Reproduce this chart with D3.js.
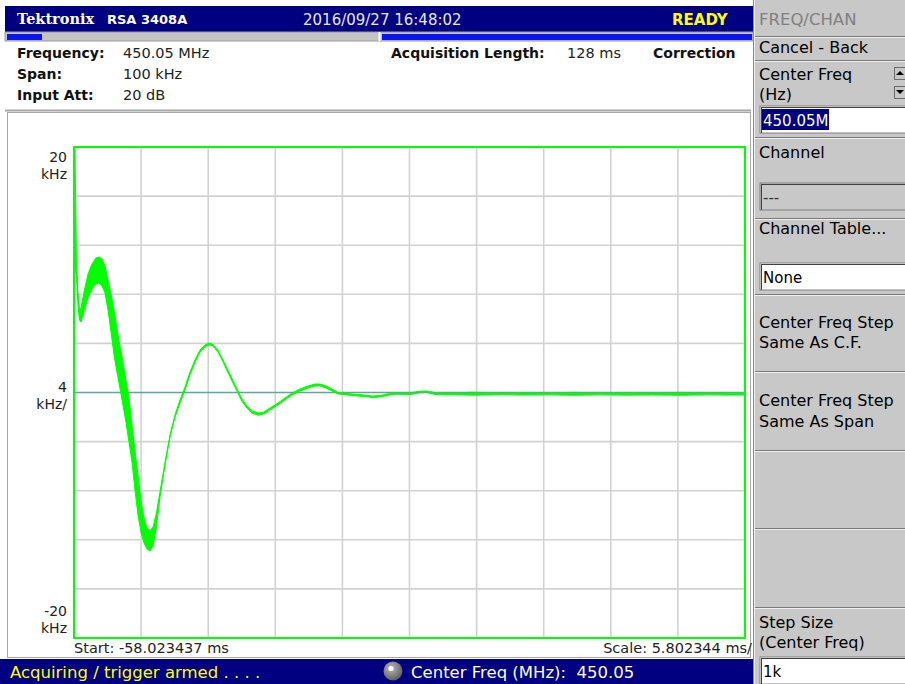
<!DOCTYPE html>
<html>
<head>
<meta charset="utf-8">
<script src="https://cdn.jsdelivr.net/npm/d3@7/dist/d3.min.js"></script>
<style>
  body { margin: 0; background: #fff; }
  svg { display: block; font-family: "DejaVu Sans", sans-serif; }
  text { white-space: pre; }
</style>
</head>
<body>
<svg id="screen" width="905" height="684"></svg>
<script>
// ---- Measurement settings -------------------------------------------------
const instrumentName = "Tektronix";
const instrumentModel = "RSA 3408A";
const timestamp = "2016/09/27 16:48:02";
const stateText = "READY";
const settingLabels = ["Frequency:", "Span:", "Input Att:"];
const settingValues = ["450.05 MHz", "100 kHz", "20 dB"];
const acqLabel = "Acquisition Length:";
const acqValue = "128 ms";
const correctionLabel = "Correction";
const statusText = "Acquiring / trigger armed . . . .";
const centerFreqText = "Center Freq (MHz):  450.05";

// ---- Axes -------------------------------------------------------------
const startMs = -58.023437;
const msPerDiv = 5.802344;
const xDivisions = 10;
const kHzPerDiv = 4;
const yTop = 20, yBottom = -20;
const yTickLabels = [
  { v: 20,  lines: ["20", "kHz"] },
  { v: 0,   lines: ["4", "kHz/"] },
  { v: -20, lines: ["-20", "kHz"] }
];
const startLabel = "Start: -58.023437 ms";
const scaleLabel = "Scale: 5.802344 ms/";

// ---- Frequency-vs-time trace: envelope (max / min) of the demodulated frequency
const traceTimeMs = [
  -58.02, -57.94, -57.81, -57.68, -57.55, -57.42, -57.16, -56.81, -56.47, -56.12,
  -55.86, -55.60, -55.34, -55.08, -54.82, -54.56, -54.31, -54.05, -53.79, -53.53,
  -53.27, -53.01, -52.75, -52.49, -52.23, -51.97, -51.71, -51.45, -51.19, -50.93,
  -50.59, -50.15, -49.72, -49.29, -48.86, -48.42, -47.99, -47.56, -47.13, -46.70,
  -46.35, -46.04, -45.57, -45.14, -44.71, -44.27, -43.93, -43.50, -43.06, -42.63,
  -42.11, -41.59, -41.07, -40.38, -39.78, -39.17, -38.48, -37.79, -37.18, -36.75,
  -36.23, -35.71, -35.19, -34.59, -33.72, -32.86, -32.17, -31.39, -30.70, -30.09,
  -28.97, -28.10, -27.50, -26.81, -25.94, -25.00, -23.50, -21.00, -19.20, -17.00,
  -14.80, -12.50, -10.10, -8.00, -5.60, -3.30, -1.20, 0.00
];
const traceMaxKHz = [
  20.00, 20.00, 10.63, 8.19, 6.72, 6.88, 8.19, 9.65, 10.47, 10.96,
  11.04, 10.88, 10.31, 9.17, 8.02, 6.72, 5.25, 3.79, 2.49, 1.02,
  -0.45, -2.65, -4.68, -6.72, -8.76, -10.22, -11.04, -11.28, -10.96, -9.98,
  -8.11, -5.66, -3.46, -1.83, -0.61, 0.45, 1.67, 2.65, 3.46, 3.87,
  4.03, 3.95, 3.46, 2.65, 1.83, 0.94, 0.29, -0.53, -1.10, -1.51,
  -1.67, -1.59, -1.26, -0.86, -0.45, -0.04, 0.29, 0.53, 0.69, 0.69,
  0.53, 0.29, 0.00, -0.06, -0.14, -0.22, -0.29, -0.22, -0.06, 0.00,
  -0.02, 0.10, 0.12, 0.00, -0.03, -0.02, 0.02, -0.04, 0.00, -0.03,
  0.01, -0.02, 0.00, -0.04, 0.01, -0.02, 0.00, -0.02
];
const traceMinKHz = [
  19.76, 10.14, 9.57, 7.13, 5.91, 5.74, 6.56, 7.70, 8.43, 8.84,
  8.92, 8.68, 8.11, 6.72, 4.93, 3.05, 1.67, 0.37, -1.02, -2.40,
  -4.03, -5.66, -7.94, -9.98, -11.36, -12.26, -12.75, -12.91, -12.50, -11.20,
  -8.56, -5.90, -3.65, -2.02, -0.88, 0.20, 1.44, 2.45, 3.28, 3.72,
  3.88, 3.80, 3.32, 2.50, 1.64, 0.75, 0.12, -0.72, -1.28, -1.68,
  -1.85, -1.74, -1.42, -1.01, -0.60, -0.20, 0.12, 0.37, 0.53, 0.53,
  0.37, 0.12, -0.12, -0.18, -0.26, -0.34, -0.41, -0.34, -0.18, -0.14,
  -0.17, -0.02, 0.00, -0.16, -0.19, -0.19, -0.22, -0.18, -0.21, -0.19,
  -0.23, -0.19, -0.22, -0.20, -0.23, -0.19, -0.21, -0.20
];

// ---- Side menu -----------------------------------------------------------
const menuTitle = "FREQ/CHAN";
const menuButtons = [
  { lines: ["Cancel - Back"] },
  { lines: ["Center Freq", "(Hz)"], field: "450.05M", selected: true, spin: true },
  { lines: ["Channel"], field: "---", disabled: true },
  { lines: ["Channel Table..."], field: "None" },
  { lines: ["Center Freq Step", "Same As C.F."] },
  { lines: ["Center Freq Step", "Same As Span"] },
  { lines: [] },
  { lines: [] },
  { lines: ["Step Size", "(Center Freq)"], field: "1k" }
];

// ---- Colours ---------------------------------------------------------------
const NAVY = "#000080", TRACE = "#00ff00", GRID = "#d2d2d2", ZERO = "#5fa5a0";
const PANEL = "#c8c8c8";

const svg = d3.select("#screen");

// Title bar
svg.append("rect").attr("x", 5).attr("y", 6).attr("width", 748).attr("height", 26).attr("fill", NAVY);
svg.append("text").attr("x", 17).attr("y", 24).attr("fill", "#fff")
  .attr("font-family", "'DejaVu Serif', serif").attr("font-weight", "bold").attr("font-size", 14.5)
  .text(instrumentName);
svg.append("text").attr("x", 107).attr("y", 24).attr("fill", "#fff")
  .attr("font-weight", "bold").attr("font-size", 13).text(instrumentModel);
svg.append("text").attr("x", 303).attr("y", 25).attr("fill", "#e8e8ff")
  .attr("font-size", 15).text(timestamp);
svg.append("text").attr("x", 672).attr("y", 25).attr("fill", "#ffff00")
  .attr("font-weight", "bold").attr("font-size", 15).text(stateText);

// Progress strip under the title bar
svg.append("rect").attr("x", 5).attr("y", 32).attr("width", 748).attr("height", 9)
  .attr("fill", "#c4c4c4").attr("stroke", "#9a9a9a").attr("stroke-width", 1);
svg.append("rect").attr("x", 7).attr("y", 34).attr("width", 35).attr("height", 6).attr("fill", "#0a14f0");
svg.append("line").attr("x1", 379.5).attr("x2", 379.5).attr("y1", 32).attr("y2", 41).attr("stroke", "#fff").attr("stroke-width", 2);
svg.append("rect").attr("x", 382).attr("y", 34).attr("width", 370).attr("height", 6).attr("fill", "#0a14f0");

// Settings header
const hdr = svg.append("g").attr("font-size", 15).attr("fill", "#111");
settingLabels.forEach((s, i) => {
  hdr.append("text").attr("x", 17).attr("y", 58 + i * 21).attr("font-weight", "bold").attr("font-size", 14).text(s);
  hdr.append("text").attr("x", 123).attr("y", 58 + i * 21).attr("font-size", 14.5).attr("fill", "#222").text(settingValues[i]);
});
hdr.append("text").attr("x", 391).attr("y", 58).attr("font-weight", "bold").attr("font-size", 14).text(acqLabel);
hdr.append("text").attr("x", 567).attr("y", 58).attr("font-size", 14.5).attr("fill", "#222").text(acqValue);
hdr.append("text").attr("x", 653).attr("y", 58).attr("font-weight", "bold").attr("font-size", 14).text(correctionLabel);

svg.append("line").attr("x1", 5).attr("x2", 751).attr("y1", 110.5).attr("y2", 110.5).attr("stroke", "#a8a8a8").attr("stroke-width", 2);

// Plot panel frame
svg.append("rect").attr("x", 7.5).attr("y", 112.5).attr("width", 743).attr("height", 545)
  .attr("fill", "#fff").attr("stroke", "#a8a8a8").attr("stroke-width", 1);

// Scales
const x = d3.scaleLinear().domain([startMs, startMs + msPerDiv * xDivisions]).range([74, 745]);
const y = d3.scaleLinear().domain([yBottom, yTop]).range([638, 147]);

const xGrid = d3.range(1, xDivisions).map(i => startMs + i * msPerDiv);
const yGrid = d3.range(yBottom + kHzPerDiv, yTop, kHzPerDiv).filter(v => Math.abs(v) > 1e-9);

const grid = svg.append("g");
grid.selectAll(".gx").data(xGrid).join("line")
  .attr("x1", d => x(d)).attr("x2", d => x(d)).attr("y1", y(yTop)).attr("y2", y(yBottom))
  .attr("stroke", GRID).attr("stroke-width", 1.6);
grid.selectAll(".gy").data(yGrid).join("line")
  .attr("x1", x.range()[0]).attr("x2", x.range()[1]).attr("y1", d => y(d)).attr("y2", d => y(d))
  .attr("stroke", GRID).attr("stroke-width", 1.6);
grid.append("line")
  .attr("x1", x.range()[0]).attr("x2", x.range()[1]).attr("y1", y(0)).attr("y2", y(0))
  .attr("stroke", ZERO).attr("stroke-width", 1.6);

// Trace envelope
const traceData = traceTimeMs.map((t, i) => ({ t, hi: traceMaxKHz[i], lo: traceMinKHz[i] }));
const area = d3.area().x(d => x(d.t)).y0(d => y(d.lo)).y1(d => y(d.hi));
svg.append("path").datum(traceData).attr("d", area)
  .attr("fill", TRACE).attr("stroke", TRACE).attr("stroke-width", 1).attr("stroke-linejoin", "round");

// Zero reference drawn over the flat tail
svg.append("line")
  .attr("x1", x(-33)).attr("x2", x.range()[1]).attr("y1", y(0)).attr("y2", y(0))
  .attr("stroke", ZERO).attr("stroke-width", 1.2).attr("opacity", 0.8);

// Graticule border
svg.append("rect").attr("x", x.range()[0]).attr("y", y(yTop))
  .attr("width", x.range()[1] - x.range()[0]).attr("height", y(yBottom) - y(yTop))
  .attr("fill", "none").attr("stroke", TRACE).attr("stroke-width", 2);

// Vertical scale labels
const yl = svg.append("g").attr("font-size", 14).attr("fill", "#222").attr("text-anchor", "end");
const labelOffsets = { "20": [15, 32], "0": [-0.5, 16.5], "-20": [-22, -5] };
yTickLabels.forEach(l => {
  l.lines.forEach((s, j) => {
    yl.append("text").attr("x", 67).attr("y", y(l.v) + labelOffsets[String(l.v)][j]).text(s);
  });
});

// Horizontal scale labels
svg.append("text").attr("x", 74).attr("y", 653).attr("font-size", 14.5).attr("fill", "#222").text(startLabel);
svg.append("text").attr("x", 752).attr("y", 653).attr("font-size", 14.5).attr("fill", "#222")
  .attr("text-anchor", "end").text(scaleLabel);

// Status bar
svg.append("rect").attr("x", 0).attr("y", 659).attr("width", 753).attr("height", 25).attr("fill", NAVY);
svg.append("text").attr("x", 10).attr("y", 678).attr("fill", "#ffff00").attr("font-size", 16.5).text(statusText);
const grad = svg.append("defs").append("radialGradient").attr("id", "knob").attr("cx", "40%").attr("cy", "35%").attr("r", "70%");
grad.append("stop").attr("offset", "0%").attr("stop-color", "#b8b8b8");
grad.append("stop").attr("offset", "100%").attr("stop-color", "#5a5a5a");
svg.append("circle").attr("cx", 393).attr("cy", 671).attr("r", 9.5).attr("fill", "url(#knob)");
svg.append("circle").attr("cx", 391).attr("cy", 668.5).attr("r", 2.6).attr("fill", "#fff");
svg.append("text").attr("x", 411).attr("y", 678).attr("fill", "#fff").attr("font-size", 16.5).text(centerFreqText);

// Side menu
const menu = svg.append("g");
menu.append("rect").attr("x", 753).attr("y", 0).attr("width", 152).attr("height", 684).attr("fill", PANEL);
menu.append("line").attr("x1", 753.5).attr("x2", 753.5).attr("y1", 0).attr("y2", 684).attr("stroke", "#8a8a8a");
menu.append("line").attr("x1", 754.5).attr("x2", 754.5).attr("y1", 0).attr("y2", 684).attr("stroke", "#eeeeee");
menu.append("text").attr("x", 759).attr("y", 25).attr("fill", "#808080").attr("font-size", 16.5).text(menuTitle);

const sepY = [36, 60, 137, 218, 294, 371, 450, 528, 607, 684];
const lineBase = [[53], [80, 100], [158], [234], [328, 348], [406, 427], [], [], [628, 648]];
const fieldTop = [null, 106, 183, 263, null, null, null, null, 657];
menuButtons.forEach((b, i) => {
  const top = sepY[i];
  menu.append("line").attr("x1", 755).attr("x2", 905).attr("y1", top + 0.5).attr("y2", top + 0.5).attr("stroke", "#7a7a7a");
  menu.append("line").attr("x1", 755).attr("x2", 905).attr("y1", top + 1.5).attr("y2", top + 1.5).attr("stroke", "#efefef");
  b.lines.forEach((s, j) => {
    menu.append("text").attr("x", 759).attr("y", lineBase[i][j]).attr("font-size", 16).attr("fill", "#000").text(s);
  });
  if (b.field !== undefined) {
    const fy = fieldTop[i];
    menu.append("rect").attr("x", 760).attr("y", fy).attr("width", 146).attr("height", 27)
      .attr("fill", b.disabled ? PANEL : "#fff").attr("stroke", "#808080").attr("stroke-width", 1);
    menu.append("line").attr("x1", 761).attr("x2", 905).attr("y1", fy + 1.5).attr("y2", fy + 1.5).attr("stroke", "#404040");
    menu.append("line").attr("x1", 761.5).attr("x2", 761.5).attr("y1", fy + 1).attr("y2", fy + 27).attr("stroke", "#404040");
    if (b.selected) {
      menu.append("rect").attr("x", 762).attr("y", fy + 3).attr("width", 67).attr("height", 21).attr("fill", NAVY);
      menu.append("text").attr("x", 763).attr("y", fy + 19.5).attr("font-size", 15).attr("fill", "#fff").text(b.field);
    } else {
      menu.append("text").attr("x", 763).attr("y", fy + 19.5).attr("font-size", 15).attr("fill", b.disabled ? "#333" : "#000").text(b.field);
    }
  }
  if (b.spin) {
    [[67, "up"], [86, "down"]].forEach(([sy, dir]) => {
      menu.append("rect").attr("x", 894.5).attr("y", sy + 0.5).attr("width", 11).attr("height", 12)
        .attr("fill", PANEL).attr("stroke", "#6a6a6a");
      const p = dir === "up" ? `M896,${sy + 8} L900,${sy + 4} L904,${sy + 8} Z` : `M896,${sy + 4} L900,${sy + 8} L904,${sy + 4} Z`;
      menu.append("path").attr("d", p).attr("fill", "#000");
    });
  }
});
</script>
</body>
</html>
